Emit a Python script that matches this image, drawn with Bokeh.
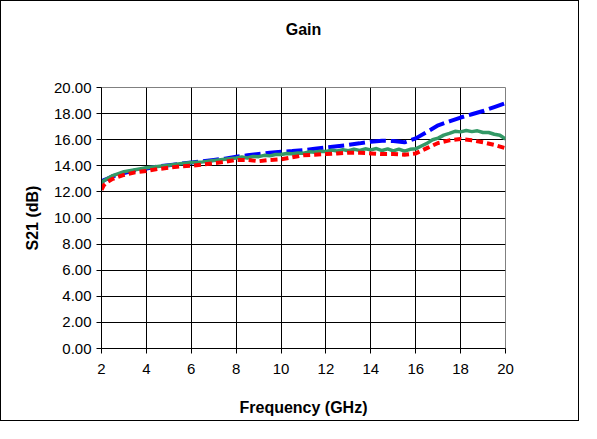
from bokeh.plotting import figure
from bokeh.models import FixedTicker, NumeralTickFormatter, Range1d, Title
from bokeh.embed import file_html
from bokeh.resources import INLINE

# ---- data ----
freq = [2.0, 2.1, 2.25, 2.5, 3.0, 3.5, 4.0, 4.5, 5.0, 5.5, 6.0, 6.5, 7.0, 7.5,
        8.0, 8.5, 9.0, 9.5, 10.0, 10.5, 11.0, 11.5, 12.0, 12.5, 13.0, 13.5,
        14.0, 14.5, 15.0, 15.5, 16.0, 16.5, 17.0, 17.5, 18.0, 18.5, 19.0, 19.5, 20.0]

blue_s21 = [12.7, 12.9, 13.0, 13.2, 13.45, 13.65, 13.8, 13.95, 14.05, 14.15, 14.25, 14.35,
            14.45, 14.55, 14.7, 14.8, 14.9, 15.0, 15.08, 15.13, 15.2, 15.3, 15.4, 15.5,
            15.6, 15.72, 15.85, 15.92, 15.9, 15.8, 16.1, 16.6, 17.1, 17.4, 17.7, 17.95,
            18.2, 18.5, 18.8]

red_s21 = [12.15, 12.5, 12.75, 13.0, 13.3, 13.5, 13.6, 13.75, 13.85, 13.95, 14.0, 14.1,
           14.2, 14.3, 14.45, 14.45, 14.35, 14.45, 14.5, 14.65, 14.8, 14.85, 14.9, 14.95,
           15.0, 15.0, 14.95, 14.9, 14.9, 14.85, 14.95, 15.35, 15.75, 15.95, 16.05, 15.95,
           15.8, 15.6, 15.35]

green_freq = [2.0, 2.1, 2.25, 2.5, 3.0, 3.5, 4.0, 4.5, 5.0, 5.5, 6.0, 6.5, 7.0, 7.5,
              8.0, 8.25, 8.5, 8.75, 9.0, 9.25, 9.5, 9.75, 10.0, 10.25, 10.5, 10.75,
              11.0, 11.25, 11.5, 11.75, 12.0, 12.25, 12.5, 12.75, 13.0, 13.25, 13.5, 13.75,
              14.0, 14.25, 14.5, 14.75, 15.0, 15.25, 15.5, 15.75, 16.0, 16.25, 16.5, 16.75,
              17.0, 17.25, 17.5, 17.75, 18.0, 18.25, 18.5, 18.75, 19.0, 19.25, 19.5, 19.75, 20.0]

green_s21 = [12.6, 12.85, 13.0, 13.25, 13.55, 13.7, 13.85, 13.95, 14.05, 14.15, 14.25, 14.3,
             14.4, 14.5, 14.6, 14.68, 14.6, 14.72, 14.7, 14.8, 14.76, 14.87, 14.86, 14.94,
             14.92, 14.98, 14.96, 15.07, 15.04, 15.12, 15.1, 15.2, 15.14, 15.24, 15.16, 15.27,
             15.18, 15.3, 15.22, 15.32, 15.17, 15.3, 15.14, 15.28, 15.12, 15.26, 15.3, 15.52,
             15.72, 16.0, 16.12, 16.35, 16.48, 16.64, 16.6, 16.7, 16.62, 16.68, 16.55, 16.55,
             16.42, 16.34, 16.05]

x_ticks = [2, 4, 6, 8, 10, 12, 14, 16, 18, 20]
y_ticks = [0, 2, 4, 6, 8, 10, 12, 14, 16, 18, 20]

FONT = "Liberation Sans"

p = figure(width=579, height=421, output_backend="svg", toolbar_location=None,
           x_range=Range1d(2, 20), y_range=Range1d(0, 20),
           min_border_left=100, min_border_right=75, min_border_top=86, min_border_bottom=74)
p.styles = {"border": "1px solid black"}
p.background_fill_color = "white"
p.border_fill_color = "white"
p.outline_line_color = "#808080"
p.outline_line_width = 1

# empty spacer between frame and title, then the title itself
p.add_layout(Title(text=" ", text_font=FONT, text_font_size="40px", standoff=4), "above")
p.add_layout(Title(text="Gain", align="center", text_font=FONT, text_font_size="16px",
                   text_font_style="bold", text_color="black", standoff=0), "above")

# grid
p.xgrid.ticker = FixedTicker(ticks=x_ticks)
p.ygrid.ticker = FixedTicker(ticks=y_ticks)
for g in (p.xgrid, p.ygrid):
    g.grid_line_color = "black"
    g.grid_line_width = 1

# axes
p.xaxis.ticker = FixedTicker(ticks=x_ticks)
p.yaxis.ticker = FixedTicker(ticks=y_ticks)
p.yaxis.formatter = NumeralTickFormatter(format="0.00")
for ax in (p.xaxis, p.yaxis):
    ax.axis_line_color = "black"
    ax.major_tick_line_color = "black"
    ax.minor_tick_line_color = None
    ax.major_tick_in = 0
    ax.major_tick_out = 5
    ax.major_label_text_font = FONT
    ax.major_label_text_font_size = "15px"
    ax.major_label_text_color = "black"
    ax.axis_label_text_font = FONT
    ax.axis_label_text_font_size = "16px"
    ax.axis_label_text_font_style = "bold"
    ax.axis_label_text_color = "black"
p.xaxis.axis_label = "Frequency (GHz)"
p.yaxis.axis_label = "S21 (dB)"
p.xaxis.major_label_standoff = 10
p.xaxis.axis_label_standoff = 22
p.yaxis.major_label_standoff = 5
p.yaxis.axis_label_standoff = 10

# series
p.line(freq, blue_s21, line_color="#0000FF", line_width=4, line_dash="16 5")
p.line(green_freq, green_s21, line_color="#339966", line_width=3.5)
p.line(freq, red_s21, line_color="#FF0000", line_width=4, line_dash="7 4")

open("out.html", "w").write(file_html(p, INLINE))
